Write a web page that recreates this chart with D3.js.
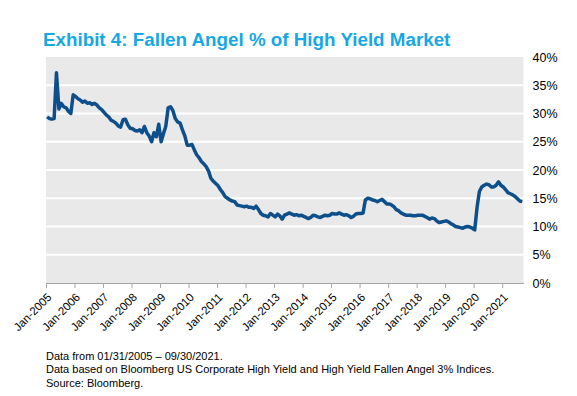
<!DOCTYPE html>
<html>
<head>
<meta charset="utf-8">
<script src="https://cdn.jsdelivr.net/npm/d3@7"></script>
<style>
  body { margin: 0; background: #fff; }
  svg { display: block; font-family: "Liberation Sans", Arial, sans-serif; }
</style>
</head>
<body>
<div id="chart"></div>
<script>
// monthly data, Jan-2005 .. Sep-2021 (fallen angel % of HY market)
var startYear = 2005;
var pct2005 = [29.4, 29.1, 29.0, 29.1, 37.2, 30.8, 31.8, 31.2, 31.0, 30.4, 30.0, 33.3];
var pct2006 = [33.0, 32.6, 32.4, 32.0, 32.2, 31.8, 31.9, 31.6, 31.8, 31.5, 31.0, 30.7];
var pct2007 = [30.2, 29.7, 29.4, 28.8, 28.6, 28.3, 27.8, 27.6, 28.9, 29.0, 28.0, 27.4];
var pct2008 = [27.3, 27.0, 26.9, 27.1, 26.6, 27.7, 26.6, 26.0, 25.0, 26.6, 25.9, 28.1];
var pct2009 = [25.0, 26.5, 27.7, 31.0, 31.2, 30.5, 29.1, 28.5, 28.3, 27.1, 26.0, 24.4];
var pct2010 = [24.4, 24.5, 23.6, 22.7, 22.2, 21.5, 21.1, 20.6, 19.8, 18.5, 18.0, 17.6];
var pct2011 = [17.2, 16.5, 16.0, 15.3, 15.0, 14.7, 14.5, 14.4, 13.8, 13.7, 13.6, 13.5];
var pct2012 = [13.6, 13.4, 13.4, 13.2, 13.6, 13.0, 12.3, 12.0, 11.9, 11.7, 12.3, 12.0];
var pct2013 = [11.7, 12.2, 11.9, 11.3, 12.0, 12.2, 12.4, 12.2, 12.0, 12.1, 11.9, 12.0];
var pct2014 = [11.8, 11.6, 11.4, 11.6, 12.0, 11.9, 11.7, 11.6, 11.8, 12.0, 11.9, 12.0];
var pct2015 = [12.3, 12.2, 12.2, 12.4, 12.2, 12.0, 12.1, 11.9, 11.6, 11.8, 12.2, 12.3];
var pct2016 = [12.3, 12.4, 14.7, 15.0, 14.9, 14.7, 14.6, 14.4, 14.6, 14.8, 14.4, 14.0];
var pct2017 = [14.0, 13.8, 13.5, 13.0, 12.8, 12.4, 12.2, 12.0, 12.0, 12.0, 11.9, 11.9];
var pct2018 = [12.0, 12.0, 12.0, 11.8, 11.6, 11.3, 11.5, 11.4, 11.0, 10.7, 10.8, 10.9];
var pct2019 = [11.0, 10.8, 10.5, 10.3, 10.0, 9.9, 9.8, 9.7, 9.9, 10.0, 9.9, 9.7];
var pct2020 = [9.4, 13.5, 16.2, 17.0, 17.3, 17.5, 17.4, 17.0, 17.0, 17.3, 17.9, 17.3];
var pct2021 = [17.0, 16.5, 16.0, 15.8, 15.6, 15.3, 14.9, 14.5, 14.4];

var yTicks = [0, 5, 10, 15, 20, 25, 30, 35, 40];
var xTickYears = [2005, 2006, 2007, 2008, 2009, 2010, 2011, 2012, 2013,
                  2014, 2015, 2016, 2017, 2018, 2019, 2020, 2021];

var titleText = "Exhibit 4: Fallen Angel % of High Yield Market";
var notes = [
  "Data  from 01/31/2005 \u2013 09/30/2021.",
  "Data  based on Bloomberg  US  Corporate High  Yield and High  Yield Fallen  Angel 3% Indices.",
  "Source: Bloomberg."
];

var allYears = [pct2005, pct2006, pct2007, pct2008, pct2009, pct2010, pct2011, pct2012,
  pct2013, pct2014, pct2015, pct2016, pct2017, pct2018, pct2019, pct2020, pct2021];
var data = [];
allYears.forEach(function(arr, yi){
  arr.forEach(function(v, m){
    data.push({date: new Date(startYear + yi, m, 15), value: v});
  });
});

var W = 577, H = 396;
var plot = {left: 46, right: 523.5, top: 57, bottom: 283};

var svg = d3.select("#chart").append("svg")
  .attr("width", W).attr("height", H);

// title
svg.append("text")
  .attr("x", 43).attr("y", 46)
  .attr("fill", "#16a8e4")
  .attr("font-size", "18.8px")
  .attr("font-weight", "bold")
  .text(titleText);

var x = d3.scaleTime()
  .domain([new Date(2005, 0, 1), new Date(2021, 9, 1)])
  .range([plot.left, plot.right]);
var y = d3.scaleLinear()
  .domain([0, 40])
  .range([plot.bottom, plot.top]);

// plot background
svg.append("rect")
  .attr("x", plot.left).attr("y", plot.top)
  .attr("width", plot.right - plot.left)
  .attr("height", plot.bottom - plot.top)
  .attr("fill", "#e9e9e9");

// gridlines
svg.append("g").selectAll("line")
  .data(yTicks.filter(function(d){ return d > 0 && d < 40; }))
  .enter().append("line")
  .attr("x1", plot.left).attr("x2", plot.right)
  .attr("y1", function(d){ return y(d); })
  .attr("y2", function(d){ return y(d); })
  .attr("stroke", "#fff")
  .attr("stroke-width", 2);

// right y axis
var yAxis = d3.axisRight(y)
  .tickValues(yTicks)
  .tickSize(0)
  .tickPadding(9)
  .tickFormat(function(d){ return d + "%"; });
var gy = svg.append("g")
  .attr("transform", "translate(" + plot.right + ",0)")
  .call(yAxis);
gy.select(".domain").remove();
gy.selectAll("text")
  .attr("font-size", "12.5px")
  .attr("fill", "#000")
  .attr("font-family", "'Liberation Sans', Arial, sans-serif");

// bottom x axis
var xAxis = d3.axisBottom(x)
  .tickValues(xTickYears.map(function(yr){ return new Date(yr, 0, 1); }))
  .tickSize(5)
  .tickSizeOuter(0)
  .tickFormat(d3.timeFormat("%b-%Y"));
var gx = svg.append("g")
  .attr("transform", "translate(0," + plot.bottom + ")")
  .call(xAxis);
gx.select(".domain").attr("stroke", "#a6a6a6");
gx.selectAll(".tick line").attr("stroke", "#a6a6a6");
gx.selectAll("text")
  .attr("font-size", "11.5px")
  .attr("fill", "#000")
  .attr("font-family", "'Liberation Sans', Arial, sans-serif")
  .attr("text-anchor", "end")
  .attr("y", 0)
  .attr("dy", "0.35em")
  .attr("transform", "translate(3,12) rotate(-45)");

// line
var line = d3.line()
  .x(function(d){ return x(d.date); })
  .y(function(d){ return y(d.value); });
svg.append("path")
  .datum(data)
  .attr("fill", "none")
  .attr("stroke", "#0d4f8b")
  .attr("stroke-width", 3.5)
  .attr("stroke-linejoin", "round")
  .attr("d", line);

// footnotes
svg.append("g").selectAll("text")
  .data(notes)
  .enter().append("text")
  .attr("x", 46)
  .attr("y", function(d, i){ return 360 + i * 13.3; })
  .attr("font-size", "11px")
  .attr("fill", "#000")
  .text(function(d){ return d; });
</script>
</body>
</html>
